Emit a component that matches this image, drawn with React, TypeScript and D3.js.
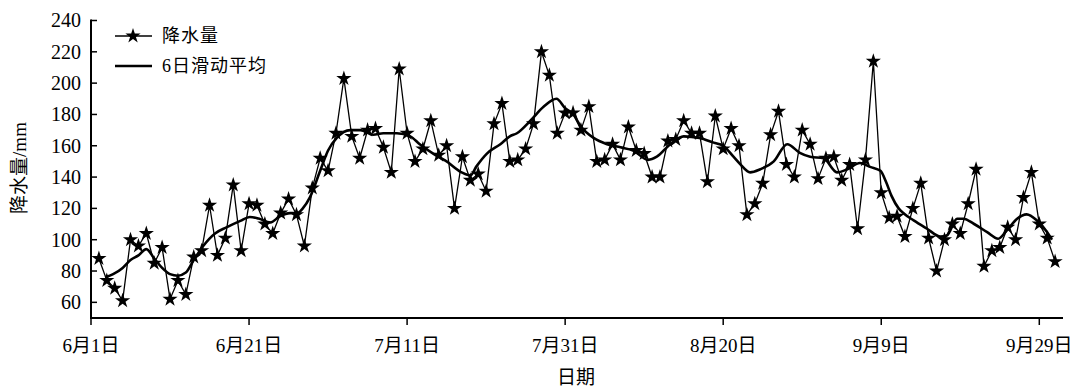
import React from 'react';
import * as d3 from 'd3';

// daily precipitation, 6/1 .. 9/30
const rainfall = [
  88, 74, 69, 61, 100, 96, 104, 85, 95, 62,
  74, 65, 89, 93, 122, 90, 101, 135, 93, 123,
  122, 110, 104, 117, 126, 116, 96, 133, 152, 144,
  168, 203, 166, 152, 170, 171, 159, 143, 209, 168,
  150, 158, 176, 154, 160, 120, 153, 138, 142, 131,
  174, 187, 150, 151, 158, 174, 220, 205, 168, 181,
  181, 170, 185, 150, 151, 161, 151, 172, 157, 155,
  140, 140, 163, 164, 176, 168, 168, 137, 179, 158,
  171, 160, 116, 123, 136, 167, 182, 148, 140, 170,
  161, 139, 152, 153, 138, 148, 107, 151, 214, 130,
  114, 115, 102, 120, 136, 101, 80, 100, 110, 104,
  123, 145, 83, 93, 95, 108, 100, 127, 143, 110,
  101, 86,
];

// 6-day moving average curve, sampled off the figure (day position, value)
const maDay = [
  1.8, 2.8, 4, 5, 6, 7, 8, 9, 10, 11, 12, 13, 14.2, 15.7, 17.2, 18.9, 20.1, 21.2, 22.7, 23.9,
  25.2, 26.1, 26.8, 27.7, 29, 30, 31.1, 32.8, 34.1, 35.7, 37, 38.7, 40.4, 41.6, 43.3, 45,
  46.9, 48, 48.8, 50.1, 51.8, 53, 53.9, 55.6, 57.3, 58.9, 60, 61.05, 61.9, 63.6, 65.3, 67,
  68.6, 70.5, 71.6, 73.3, 75, 77, 78.8, 80, 81.3, 82.2, 83.4, 84.7, 86.4, 88.1, 89.7, 91,
  92.7, 94.4, 95.7, 97.3, 98.6, 99.9, 100.6, 101.3, 102.2, 102.9, 104.1, 105.8, 107.5, 108.3,
  109.6, 110.4, 111.7, 113.4, 114.8, 115.9, 117.2, 118.4, 119.7, 121, 121.6,
];
const maValue = [
  76, 78, 82, 87, 90, 94, 88, 82, 78, 77, 79, 87, 96, 104, 108, 112, 114.5, 113.5, 111, 115,
  117, 117, 120, 127, 144, 157, 165, 170, 170, 167, 168, 168, 166, 161, 155, 150,
  143, 141, 147, 155, 161, 166, 168, 176, 185, 190, 184, 180, 173, 165, 161, 159,
  157, 151, 153, 161, 166, 165, 162, 160, 153, 148, 143, 145, 150, 161, 155.5, 153,
  152, 143, 145, 149, 146.5, 144, 137, 128, 120, 116.6, 112.3, 107, 102, 102.7,
  113.4, 113.4, 110.2, 104.8, 100.6, 106, 113.4, 116.2, 112.3, 104.8, 100,
];

const tickDays = [0, 20, 40, 60, 80, 100, 120];
const tickLabels = ['6月1日', '6月21日', '7月11日', '7月31日', '8月20日', '9月9日', '9月29日'];
const yTicks = [60, 80, 100, 120, 140, 160, 180, 200, 220, 240];

const width = 1073;
const height = 389;
const serif = "'Liberation Serif', 'Times New Roman', 'Noto Sans CJK SC', serif";

export default function App() {
  const x = d3.scaleLinear().domain([0, 123]).range([91, 1063]);
  const y = d3.scaleLinear().domain([50, 240]).range([318, 20.5]);

  const rainPts: [number, number][] = rainfall.map((v, i) => [x(i + 1), y(v)]);
  const rainLine = d3.line()(rainPts) || '';

  const maLine =
    d3
      .line<number>()
      .x((d, i) => x(maDay[i]))
      .y((d) => y(d))
      .curve(d3.curveMonotoneX)(maValue) || '';

  const star = d3.symbol().type(d3.symbolStar).size(72)() || '';

  return (
    <svg
      width={width}
      height={height}
      style={{ position: 'absolute', left: 0, top: 0, background: '#fff' }}
      fontFamily={serif}
    >
      {/* series */}
      <path d={rainLine} fill="none" stroke="#000" strokeWidth={1.3} />
      {rainPts.map(([px, py], i) => (
        <path key={i} d={star} transform={`translate(${px},${py})`} fill="#000" />
      ))}
      <path d={maLine} fill="none" stroke="#000" strokeWidth={2.6} />

      {/* y axis */}
      <line x1={x(0)} x2={x(0)} y1={y(240) - 1} y2={y(50) + 1} stroke="#000" strokeWidth={2} />
      {yTicks.map((t) => (
        <g key={t}>
          <line x1={x(0)} x2={x(0) + 6} y1={y(t)} y2={y(t)} stroke="#000" strokeWidth={1.5} />
          <text x={81} y={y(t)} dy="0.34em" textAnchor="end" fontSize={20}>
            {t}
          </text>
        </g>
      ))}
      <text
        transform={`translate(26,168) rotate(-90)`}
        textAnchor="middle"
        fontSize={19}
      >
        降水量/mm
      </text>

      {/* x axis */}
      <line x1={x(0) - 1} x2={x(123)} y1={y(50)} y2={y(50)} stroke="#000" strokeWidth={2} />
      {tickDays.map((t, i) => (
        <g key={t}>
          <line x1={x(t)} x2={x(t)} y1={y(50)} y2={y(50) + 7} stroke="#000" strokeWidth={1.5} />
          <text x={x(t)} y={352} textAnchor="middle" fontSize={19}>
            {tickLabels[i]}
          </text>
        </g>
      ))}
      <text x={576} y={384} textAnchor="middle" fontSize={19}>
        日期
      </text>

      {/* legend */}
      <line x1={115} x2={152} y1={36} y2={36} stroke="#000" strokeWidth={1.3} />
      <path d={star} transform="translate(133,36)" fill="#000" />
      <text x={162} y={36} dy="0.35em" fontSize={18} letterSpacing={1}>
        降水量
      </text>
      <line x1={115} x2={152} y1={66} y2={66} stroke="#000" strokeWidth={2.6} />
      <text x={162} y={66} dy="0.35em" fontSize={18} letterSpacing={1}>
        6日滑动平均
      </text>
    </svg>
  );
}
